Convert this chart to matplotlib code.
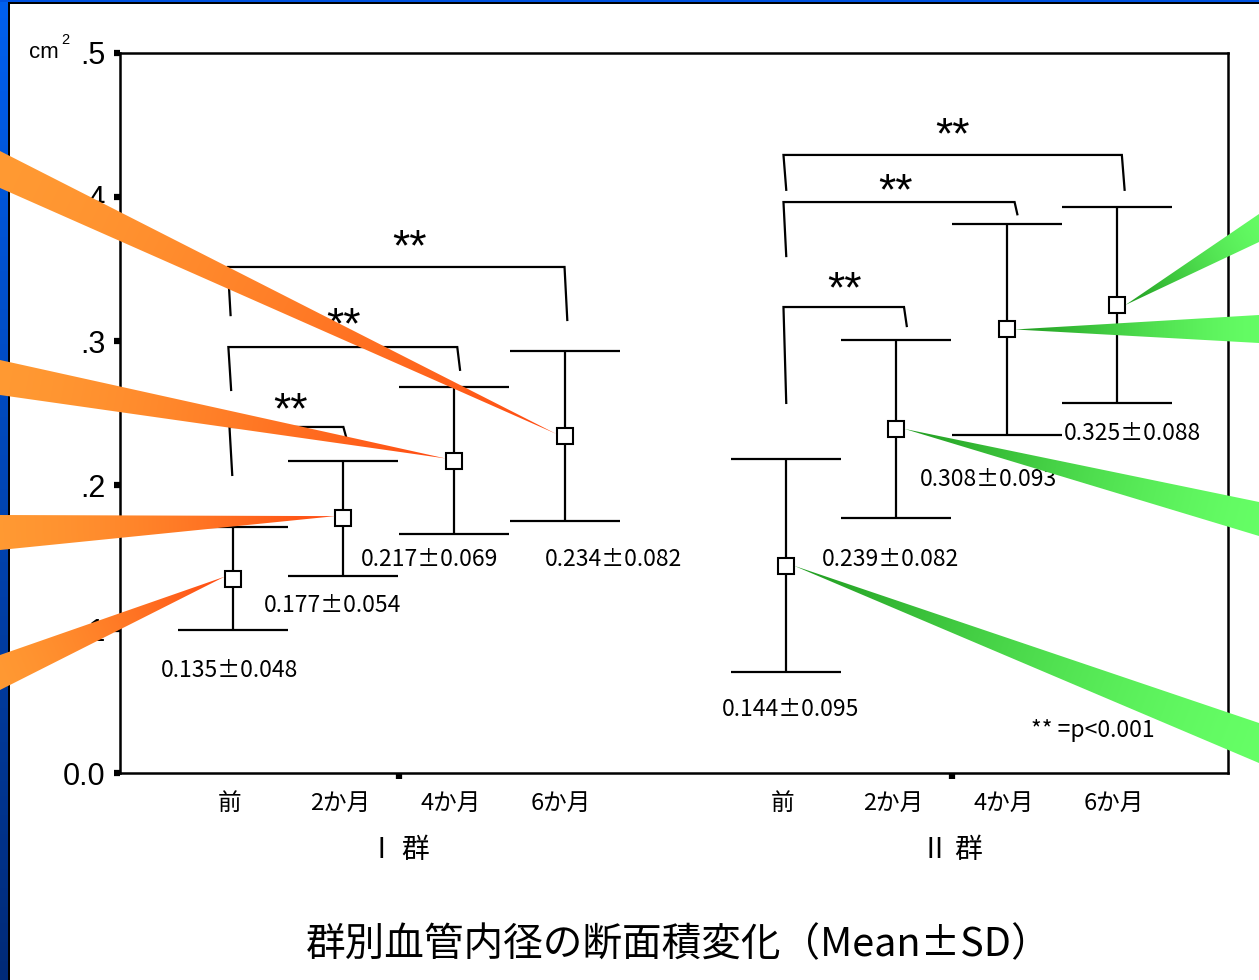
import numpy as np
import matplotlib
matplotlib.use("Agg")
import matplotlib.pyplot as plt
from matplotlib.colors import to_rgb
from matplotlib.patches import Polygon, Rectangle
from matplotlib.transforms import blended_transform_factory

plt.rcParams['font.family'] = ['Noto Sans CJK JP', 'DejaVu Sans']

# Vessel lumen cross-section area (cm^2), mean and SD per group and time point
periods = ['前', '2か月', '4か月', '6か月']
groups = ['Ⅰ 群', 'Ⅱ 群']
mean_g1 = [0.135, 0.177, 0.217, 0.234]
sd_g1 = [0.048, 0.054, 0.069, 0.082]
mean_g2 = [0.144, 0.239, 0.308, 0.325]
sd_g2 = [0.095, 0.082, 0.093, 0.088]
# half length of the drawn whiskers
bar_g1 = [0.036, 0.040, 0.051, 0.059]
bar_g2 = [0.074, 0.062, 0.073, 0.068]

ytick_vals = [0.0, 0.1, 0.2, 0.3, 0.4, 0.5]
ytick_text = ['0.0', '.1', '.2', '.3', '.4', '.5']
title = '群別血管内径の断面積変化（Mean±SD）'
note = '** =p<0.001'

# layout
pos_g1 = [1, 2, 3, 4]
pos_g2 = [6, 7, 8, 9]
label_xy_g1 = [(0.97, 0.0715), (1.90, 0.116), (2.78, 0.148), (4.44, 0.148)]
label_xy_g2 = [(6.04, 0.0444), (6.95, 0.148), (7.83, 0.204), (9.14, 0.236)]
# bracket: x left, x right, top, left leg end, right leg end, star x, star y
brackets = [
    (0.97, 2.00, 0.2403, 0.207, 0.2333, 1.52, 0.2506),
    (0.96, 3.03, 0.2958, 0.266, 0.280, 2.00, 0.3096),
    (0.955, 4.00, 0.3514, 0.318, 0.3146, 2.60, 0.3638),
    (5.98, 7.07, 0.3236, 0.257, 0.3104, 6.53, 0.335),
    (5.98, 8.07, 0.3965, 0.359, 0.388, 6.99, 0.403),
    (5.98, 9.04, 0.4292, 0.405, 0.405, 7.51, 0.4415),
]

W, H = 1259, 980
fig = plt.figure(figsize=(W / 100, H / 100), dpi=100)
fig.patch.set_facecolor('white')

ax = fig.add_axes([120 / W, 1 - 773 / H, 1108 / W, 720 / H])
ax.set_xlim(-0.02, 10.0)
ax.set_ylim(0, 0.5)
for spine in ax.spines.values():
    spine.set_linewidth(1.8)

ax.set_yticks(ytick_vals)
ax.set_yticklabels(ytick_text, family='Liberation Sans', fontsize=22)
ax.set_xticks([2.5, 7.5])
ax.set_xticklabels(['', ''])
ax.tick_params(direction='out', length=4.5, width=4.5, pad=6)

for pos, mean, bar in [(pos_g1, mean_g1, bar_g1), (pos_g2, mean_g2, bar_g2)]:
    ax.errorbar(pos, mean, yerr=bar, fmt='none', ecolor='black',
                elinewidth=1.6, capsize=39.5, capthick=1.6, zorder=2)
    ax.plot(pos, mean, 's', ms=11, mfc='white', mec='black', mew=1.5, zorder=3)

for mean, sd, xy in [(mean_g1, sd_g1, label_xy_g1), (mean_g2, sd_g2, label_xy_g2)]:
    for m, s, (tx, ty) in zip(mean, sd, xy):
        ax.text(tx, ty, f'{m:.3f}±{s:.3f}', ha='center', va='center', fontsize=16.5)

for xl, xr, top, lb, rb, sx, sy in brackets:
    ax.plot([xl + 0.025, xl, xr, xr + 0.025], [lb, top, top, rb],
            color='black', lw=1.6, solid_joinstyle='miter')
    ax.text(sx, sy, '**', ha='center', va='center', fontsize=32,
            family='Liberation Sans')

ax.text(8.78, 0.0292, note, ha='center', va='center', fontsize=16.5)

trans = blended_transform_factory(ax.transData, ax.transAxes)
for pos in (pos_g1, pos_g2):
    for p, name in zip(pos, periods):
        ax.text(p - 0.03, -0.0417, name, transform=trans, ha='center', va='center',
                fontsize=17)
for gx, name in zip([2.5, 7.5], groups):
    ax.text(gx, -0.107, name, transform=trans, ha='center', va='center', fontsize=20)

fig.text(29 / W, 1 - 53 / H, 'cm', fontsize=16, family='Liberation Sans',
         ha='left', va='center')
fig.text(61 / W, 1 - 40 / H, '2', fontsize=10.5, family='Liberation Sans',
         ha='left', va='center')
fig.text(679 / W, 1 - 945 / H, title, ha='center', va='center', fontsize=28.5)

# overlay in pixel units for the slide frame and callout wedges
ov = fig.add_axes([0, 0, 1, 1], zorder=5)
ov.set_xlim(0, W)
ov.set_ylim(H, 0)
ov.axis('off')
ov.patch.set_alpha(0)

strip = np.linspace(0, 1, 256)[:, None, None]
top_c, bot_c = np.array(to_rgb('#0060f0')), np.array(to_rgb('#002a78'))
ov.imshow(top_c * (1 - strip) + bot_c * strip, extent=(0, 8.5, H, 0),
          aspect='auto', zorder=1)
ov.add_patch(Rectangle((0, 0), W, 2.5, color='#0052e0', lw=0, zorder=1))
ov.add_patch(Rectangle((8.5, 2.5), 2, H, color='black', lw=0, zorder=1))
ov.add_patch(Rectangle((8.5, 2.5), W, 1.8, color='black', lw=0, zorder=1))


def to_px(x, y):
    dx, dy = ax.transData.transform((x, y))
    return dx, H - dy


def wedge(apex, p1, p2, c_far, c_tip, edge_x):
    # push far corners past the figure edge
    pts = []
    for px, py in (p1, p2):
        k = (edge_x - apex[0]) / (px - apex[0])
        pts.append((apex[0] + k * (px - apex[0]), apex[1] + k * (py - apex[1])))
    poly = Polygon([apex] + pts, closed=True, fc='none', ec='none')
    ov.add_patch(poly)
    xs = [apex[0]] + [p[0] for p in pts]
    ys = [apex[1]] + [p[1] for p in pts]
    x0, x1, y0, y1 = min(xs), max(xs), min(ys), max(ys)
    gx, gy = np.meshgrid(np.linspace(x0, x1, 300), np.linspace(y0, y1, 120))
    far = np.mean(pts, axis=0)
    d = np.array(apex) - far
    t = ((gx - far[0]) * d[0] + (gy - far[1]) * d[1]) / (d @ d)
    t = np.clip(t, 0, 1)[..., None] ** 1.6
    img = np.array(to_rgb(c_far)) * (1 - t) + np.array(to_rgb(c_tip)) * t
    im = ov.imshow(img, extent=(x0, x1, y1, y0), origin='upper', aspect='auto',
                   interpolation='bilinear', zorder=3)
    im.set_clip_path(poly)


orange_far = [((0, 151), (0, 188)), ((0, 360), (0, 395)),
              ((0, 515), (0, 550)), ((0, 655), (0, 690))]
orange_idx = [3, 2, 1, 0]
for i, (p1, p2) in zip(orange_idx, orange_far):
    cx, cy = to_px(pos_g1[i], mean_g1[i])
    wedge((cx - 8, cy - 2), p1, p2, '#ff9a33', '#ff4a12', -20)

green_far = [((W, 214), (W, 242)), ((W, 315), (W, 343)),
             ((W, 502), (W, 536)), ((W, 723), (W, 763))]
green_idx = [3, 2, 1, 0]
for i, (p1, p2) in zip(green_idx, green_far):
    cx, cy = to_px(pos_g2[i], mean_g2[i])
    wedge((cx + 8, cy), p1, p2, '#66ff66', '#1f9a1f', W + 20)

ov.set_xlim(0, W)
ov.set_ylim(H, 0)

fig.savefig('out.png', dpi=100)
